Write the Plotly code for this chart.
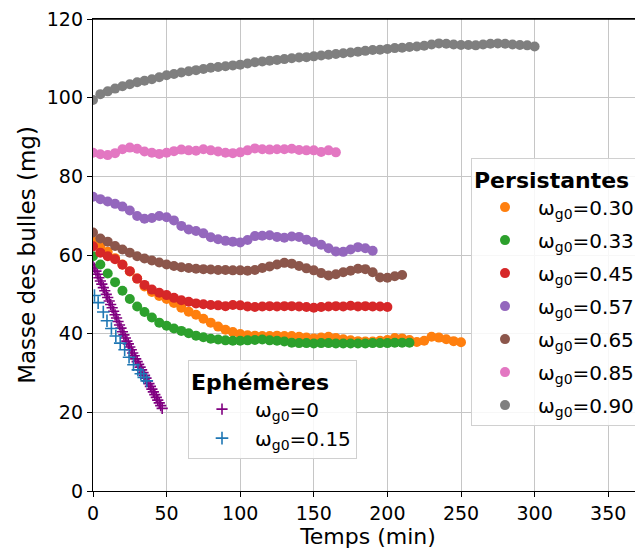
import plotly.graph_objects as go

# ---------------- data ----------------
# Persistantes (sampled every 5 min)
t_030 = list(range(0, 251, 5))
m_030 = [63.6, 62.3, 60.8, 59.2, 57.6, 55.8, 54.0, 52.0, 50.6, 49.6,
         48.8, 47.8, 46.6, 45.6, 44.8, 43.8, 42.8, 41.8, 41.0, 40.4,
         39.9, 39.6, 39.5, 39.4, 39.4, 39.5, 39.4, 39.4, 39.2, 39.0,
         38.8, 39.0, 39.2, 38.9, 38.6, 38.3, 38.1, 38.0, 38.0, 38.2,
         38.4, 38.9, 38.8, 38.4, 37.9, 38.2, 39.2, 39.0, 38.6, 38.1, 37.8]

t_033 = list(range(0, 216, 5))
m_033 = [59.7, 57.6, 55.3, 53.1, 50.9, 48.8, 46.9, 45.5, 44.1, 42.8,
         42.0, 41.3, 40.7, 40.1, 39.5, 39.1, 38.7, 38.5, 38.3, 38.2,
         38.2, 38.3, 38.4, 38.5, 38.3, 38.2, 38.0, 37.7, 37.6, 37.6,
         37.5, 37.6, 37.6, 37.5, 37.5, 37.5, 37.5, 37.5, 37.6, 37.6,
         37.6, 37.7, 37.7, 37.7]

t_045 = list(range(0, 201, 5))
m_045 = [62.2, 60.6, 59.7, 58.9, 57.5, 55.9, 54.0, 52.4, 51.2, 50.4,
         49.8, 49.1, 48.5, 48.1, 47.7, 47.5, 47.3, 47.2, 47.0, 47.3,
         47.2, 46.9, 46.8, 46.9, 47.0, 46.9, 47.0, 47.0, 46.9, 46.8,
         46.6, 46.8, 46.9, 47.0, 46.9, 47.1, 46.9, 47.0, 46.9, 46.9, 46.8]

t_057 = list(range(0, 191, 5))
m_057 = [74.8, 74.2, 73.6, 73.0, 72.3, 71.3, 69.9, 69.2, 69.4, 69.9,
         69.6, 68.8, 67.4, 66.5, 66.1, 65.5, 64.5, 64.0, 63.6, 63.4,
         63.2, 63.8, 64.8, 64.9, 65.0, 64.6, 64.4, 64.7, 64.6, 63.9,
         63.3, 62.6, 61.7, 60.9, 60.8, 61.4, 62.0, 61.7, 61.1]

t_065 = list(range(0, 211, 5))
m_065 = [65.7, 64.2, 63.4, 62.3, 61.4, 60.6, 59.7, 59.1, 58.6, 58.1,
         57.6, 57.2, 56.9, 56.7, 56.5, 56.4, 56.3, 56.2, 56.2, 56.1,
         56.1, 56.0, 56.2, 56.7, 57.1, 57.6, 58.0, 57.8, 57.2, 56.6,
         56.1, 55.4, 54.8, 55.1, 55.6, 56.0, 56.5, 56.4, 55.6, 54.3,
         54.2, 54.6, 54.9]

t_085 = list(range(0, 166, 5))
m_085 = [86.0, 85.6, 85.4, 85.9, 86.9, 87.3, 87.0, 86.3, 86.0, 85.7,
         86.0, 86.4, 86.8, 86.6, 86.5, 86.9, 86.6, 86.3, 86.0, 85.9,
         86.1, 86.6, 87.1, 86.9, 86.8, 86.9, 86.9, 87.0, 86.7, 86.6,
         86.6, 86.2, 86.6, 86.1]

t_090 = list(range(0, 301, 5))
m_090 = [99.4, 100.9, 101.6, 102.3, 102.9, 103.4, 103.9, 104.3, 104.7, 105.2,
         105.7, 106.0, 106.4, 106.7, 107.0, 107.3, 107.6, 107.8, 108.0, 108.2,
         108.4, 108.7, 109.0, 109.2, 109.4, 109.6, 109.8, 110.0, 110.2, 110.3,
         110.5, 110.7, 110.9, 111.1, 111.3, 111.5, 111.7, 111.9, 112.1, 112.2,
         112.4, 112.6, 112.7, 112.9, 113.0, 113.2, 113.5, 113.8, 113.7, 113.5,
         113.4, 113.4, 113.3, 113.5, 113.7, 113.8, 113.7, 113.5, 113.4, 113.3, 113.0]

# Ephémères
t_000 = list(range(0, 48, 1))
m_000 = [57.5, 56.7, 55.9, 55.1, 54.2, 53.4, 52.6, 51.7, 50.9, 50.0,
         49.2, 48.3, 47.4, 46.6, 45.7, 44.8, 44.0, 43.1, 42.2, 41.4,
         40.5, 39.7, 38.9, 38.1, 37.4, 36.6, 35.9, 35.1, 34.4, 33.6,
         32.9, 32.2, 31.5, 30.8, 30.1, 29.4, 28.7, 28.0, 27.3, 26.6,
         25.9, 25.2, 24.5, 23.8, 23.1, 22.4, 21.7, 21.0]

t_015 = [1, 3.5, 7, 9.5, 12.5, 15.5, 18.5, 21.5, 24.5, 27.5, 30.5, 32.5, 34.5, 36.5]
m_015 = [49.7, 47.9, 45.5, 43.3, 41.3, 39.4, 37.6, 35.9, 34.0, 32.1, 30.8, 29.8, 28.9, 28.0]

x_ticks = [0, 50, 100, 150, 200, 250, 300, 350]
y_ticks = [0, 20, 40, 60, 80, 100, 120]

persist = [
    ("0.30", t_030, m_030, "#ff7f0e"),
    ("0.33", t_033, m_033, "#2ca02c"),
    ("0.45", t_045, m_045, "#d62728"),
    ("0.57", t_057, m_057, "#9467bd"),
    ("0.65", t_065, m_065, "#8c564b"),
    ("0.85", t_085, m_085, "#e377c2"),
    ("0.90", t_090, m_090, "#7f7f7f"),
]
ephem = [
    ("0", t_000, m_000, "#800080", 8),
    ("0.15", t_015, m_015, "#1f77b4", 9),
]

FONT = "DejaVu Sans"
fig = go.Figure()

for lab, t, m, c, sz in ephem:
    fig.add_trace(go.Scatter(
        x=t, y=m, mode="markers", name="ω<sub>g0</sub>=%s" % lab,
        marker=dict(symbol="cross-thin", size=sz, color=c,
                    line=dict(color=c, width=1.6)),
        legend="legend2", legendgroup="e" + lab,
    ))

for lab, t, m, c in persist:
    fig.add_trace(go.Scatter(
        x=t, y=m, mode="markers", name="ω<sub>g0</sub>=%s" % lab,
        marker=dict(symbol="circle", size=10, color=c),
        legend="legend", legendgroup="p" + lab,
    ))

# page body adds an 8px offset; compensate so the plot area lands at
# x 93..643 and y 19..491 in the browser window
OFF = 8
W, H = 643, 549
L, T = 93 - OFF, 19 - OFF
R = OFF
pw, ph = 550, 472
B = H - T - ph
px_per_unit = 73.6 / 50
xmax = pw / px_per_unit

fig.update_layout(
    width=W, height=H,
    margin=dict(l=L, r=R, t=T, b=B, pad=0, autoexpand=False),
    paper_bgcolor="white", plot_bgcolor="white",
    font=dict(family=FONT, size=19, color="black"),
    xaxis=dict(range=[0, xmax], tickvals=x_ticks, ticks="outside", ticklen=5,
               tickwidth=1.2, tickcolor="black", showline=True, linecolor="black",
               linewidth=1.3, mirror=True, showgrid=True, gridcolor="#c6c6c6",
               gridwidth=1, zeroline=False, automargin=False,
               ticklabeloverflow="allow",
               title=dict(text="Temps (min)", font=dict(size=22), standoff=0),
               tickfont=dict(size=19)),
    yaxis=dict(range=[0, 120], tickvals=y_ticks, ticks="outside", ticklen=5,
               tickwidth=1.2, tickcolor="black", showline=True, linecolor="black",
               linewidth=1.3, showgrid=True, gridcolor="#c6c6c6", gridwidth=1,
               zeroline=False, automargin=False, ticklabeloverflow="allow",
               title=dict(text="Masse des bulles (mg)", font=dict(size=23), standoff=4),
               tickfont=dict(size=19)),
    shapes=[dict(type="line", xref="paper", yref="paper", x0=0, x1=1, y0=1, y1=1,
                 line=dict(color="black", width=1.3), layer="above")],
    legend=dict(
        title=dict(text="<b>Persistantes</b>", font=dict(size=22)),
        x=(471 - 93) / pw, y=(491 - 158) / ph, xanchor="left", yanchor="top",
        bgcolor="rgba(255,255,255,0.85)", bordercolor="#d0d0d0", borderwidth=1,
        font=dict(size=20), tracegroupgap=4, itemwidth=56,
    ),
    legend2=dict(
        title=dict(text="<b>Ephémères</b>", font=dict(size=22)),
        x=(188 - 93) / pw, y=(491 - 360) / ph, xanchor="left", yanchor="top",
        bgcolor="rgba(255,255,255,0.85)", bordercolor="#d0d0d0", borderwidth=1,
        font=dict(size=20), tracegroupgap=0, itemwidth=56,
    ),
)

fig.write_html("out.html")
